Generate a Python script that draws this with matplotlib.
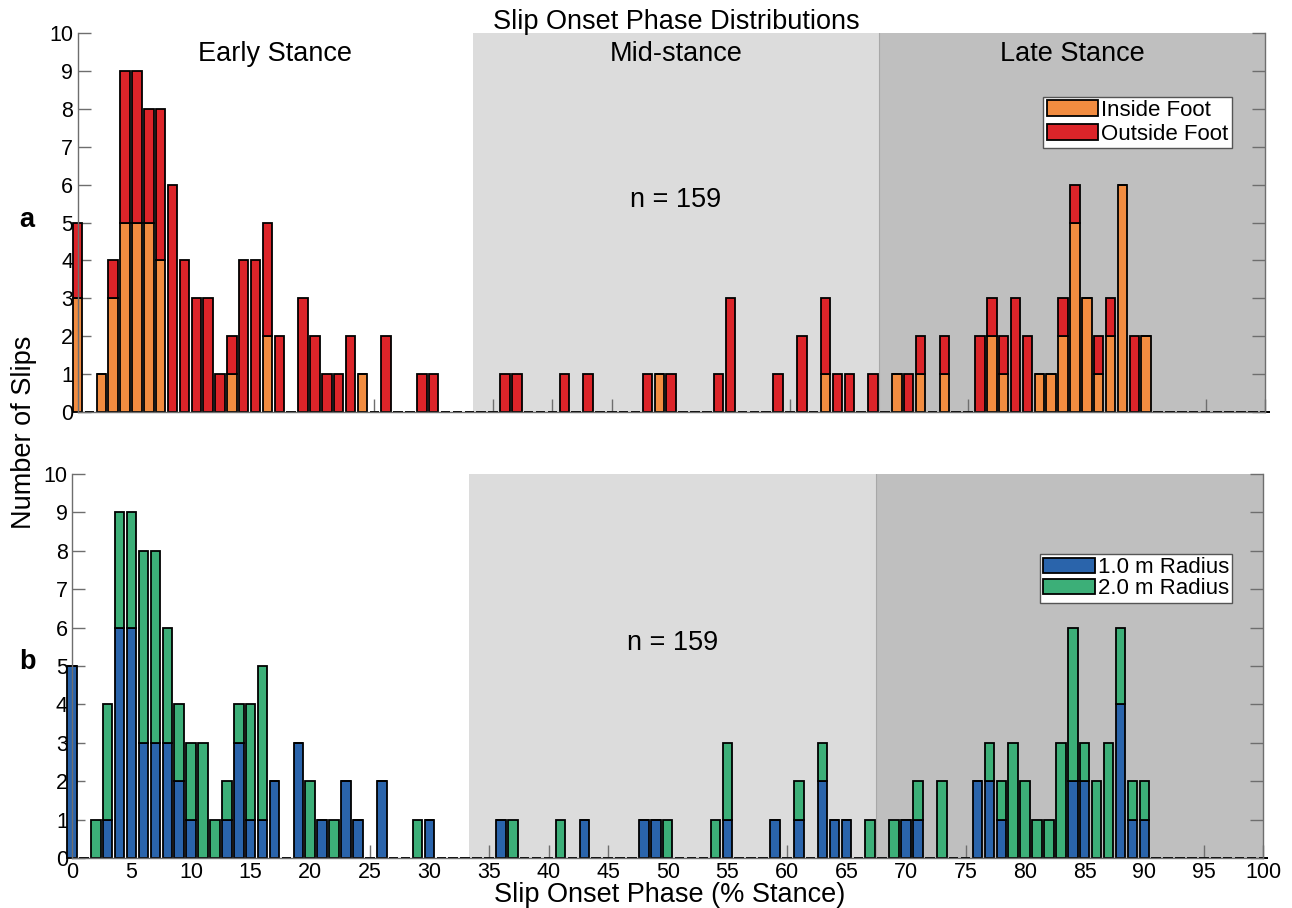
import matplotlib
matplotlib.use('Agg')
import matplotlib.pyplot as plt
import numpy as np

# data: slip counts per 1% stance bin (only non-empty bins listed)
phase = [0, 2, 3, 4, 5, 6, 7, 8, 9, 10, 11, 12, 13, 14, 15, 16, 17, 19, 20, 21,
         22, 23, 24, 26, 29, 30, 36, 37, 41, 43, 48, 49, 50, 54, 55, 59, 61, 63,
         64, 65, 67, 69, 70, 71, 73, 76, 77, 78, 79, 80, 81, 82, 83, 84, 85, 86,
         87, 88, 89, 90]
inside_foot = [3, 1, 3, 5, 5, 5, 4, 0, 0, 0, 0, 0, 1, 0, 0, 2, 0, 0, 0, 0,
               0, 0, 1, 0, 0, 0, 0, 0, 0, 0, 0, 1, 0, 0, 0, 0, 0, 1,
               0, 0, 0, 1, 0, 1, 1, 0, 2, 1, 0, 0, 1, 1, 2, 5, 3, 1,
               2, 6, 0, 2]
outside_foot = [2, 0, 1, 4, 4, 3, 4, 6, 4, 3, 3, 1, 1, 4, 4, 3, 2, 3, 2, 1,
                1, 2, 0, 2, 1, 1, 1, 1, 1, 1, 1, 0, 1, 1, 3, 1, 2, 2,
                1, 1, 1, 0, 1, 1, 1, 2, 1, 1, 3, 2, 0, 0, 1, 1, 0, 1,
                1, 0, 2, 0]
radius_1m = [5, 0, 1, 6, 6, 3, 3, 3, 2, 1, 0, 0, 1, 3, 1, 1, 2, 3, 0, 1,
             0, 2, 1, 2, 0, 1, 1, 0, 0, 1, 1, 1, 0, 0, 1, 1, 1, 2,
             1, 1, 0, 0, 1, 1, 0, 2, 2, 1, 0, 0, 0, 0, 0, 2, 2, 0,
             0, 4, 1, 1]
radius_2m = [0, 1, 3, 3, 3, 5, 5, 3, 2, 2, 3, 1, 1, 1, 3, 4, 0, 0, 2, 0,
             1, 0, 0, 0, 1, 0, 0, 1, 1, 0, 0, 0, 1, 1, 2, 0, 1, 1,
             0, 0, 1, 1, 0, 1, 2, 0, 1, 1, 3, 2, 1, 1, 3, 4, 1, 2,
             3, 2, 1, 1]

phase_edges = [33.33, 67.5]            # mid-stance / late stance boundaries
phase_names = ['Early Stance', 'Mid-stance', 'Late Stance']
n_total = 159

# full bin arrays 0..100
bins = np.arange(0, 101)
def full(vals):
    arr = np.zeros(len(bins))
    arr[np.array(phase)] = vals
    return arr

c_in, c_out = '#F28C40', '#DC2429'
c_r1, c_r2 = '#2A64AB', '#3CAF78'
mid_gray, late_gray = '#DCDCDC', '#BFBFBF'
spine_col = '#6E6E6E'
big = 19.5

plt.rcParams['font.family'] = ['Liberation Sans', 'DejaVu Sans']

fig = plt.figure(figsize=(12.92, 9.08), dpi=100)
ax1 = fig.add_axes([0.0600, 0.5466, 0.9190, 0.4167])
ax2 = fig.add_axes([0.0557, 0.0551, 0.9222, 0.4229])

def draw_panel(ax, low, high, low_lab, high_lab, low_c, high_c, leg_anchor, lspace):
    ax.axvspan(phase_edges[0], phase_edges[1], color=mid_gray, zorder=0, lw=0)
    ax.axvspan(phase_edges[1], 100, color=late_gray, zorder=0, lw=0)
    ax.axvline(phase_edges[1], color='#A8A8A8', lw=0.8, zorder=0.5)
    lo = full(low)
    hi = full(high)
    ax.bar(bins, lo, 0.8, color=low_c, edgecolor='black', lw=1.3,
           label=low_lab, zorder=2, clip_on=False)
    ax.bar(bins, hi, 0.8, bottom=lo, color=high_c, edgecolor='black',
           lw=1.3, label=high_lab, zorder=2, clip_on=False)
    ax.set_xlim(0, 100)
    ax.set_ylim(0, 10)
    ax.set_xticks(np.arange(0, 101, 5))
    ax.set_yticks(np.arange(0, 11, 1))
    ax.tick_params(axis='both', direction='in', length=9.5, width=1.0,
                   color=spine_col, labelsize=15.5, right=True, pad=3)
    ax.spines['top'].set_visible(False)
    for s in ['left', 'right', 'bottom']:
        ax.spines[s].set_color(spine_col)
        ax.spines[s].set_linewidth(1.0)
    leg = ax.legend(loc='upper right', bbox_to_anchor=leg_anchor, fontsize=16,
                    fancybox=False, edgecolor='#555555', framealpha=1,
                    borderpad=0.15, labelspacing=lspace, handlelength=2.3,
                    handleheight=0.7, handletextpad=0.15, borderaxespad=0)
    leg.get_frame().set_linewidth(1.0)
    ax.text(50.4, 5.6, 'n = %d' % n_total, ha='center', va='center', fontsize=big)

draw_panel(ax1, inside_foot, outside_foot, 'Inside Foot', 'Outside Foot',
           c_in, c_out, (0.972, 0.833), 0.12)
draw_panel(ax2, radius_1m, radius_2m, '1.0 m Radius', '2.0 m Radius',
           c_r1, c_r2, (0.974, 0.792), 0.0)

ax1.set_xticklabels([])
centers = [phase_edges[0] / 2, sum(phase_edges) / 2, (phase_edges[1] + 100) / 2]
for cx, name in zip(centers, phase_names):
    ax1.text(cx, 9.45, name, ha='center', va='center', fontsize=big)

fig.text(676.5 / 1292, 1 - 22 / 908, 'Slip Onset Phase Distributions',
         ha='center', va='center', fontsize=big)
fig.text(24 / 1292, 1 - 432 / 908, 'Number of Slips', rotation=90,
         ha='center', va='center', fontsize=big)
fig.text(670 / 1292, 1 - 895 / 908, 'Slip Onset Phase (% Stance)',
         ha='center', va='center', fontsize=big)
fig.text(27 / 1292, 1 - 220 / 908, 'a', ha='center', va='center',
         fontsize=big, fontweight='bold')
fig.text(27 / 1292, 1 - 662 / 908, 'b', ha='center', va='center',
         fontsize=big, fontweight='bold')

plt.savefig('out.png', dpi=100)
